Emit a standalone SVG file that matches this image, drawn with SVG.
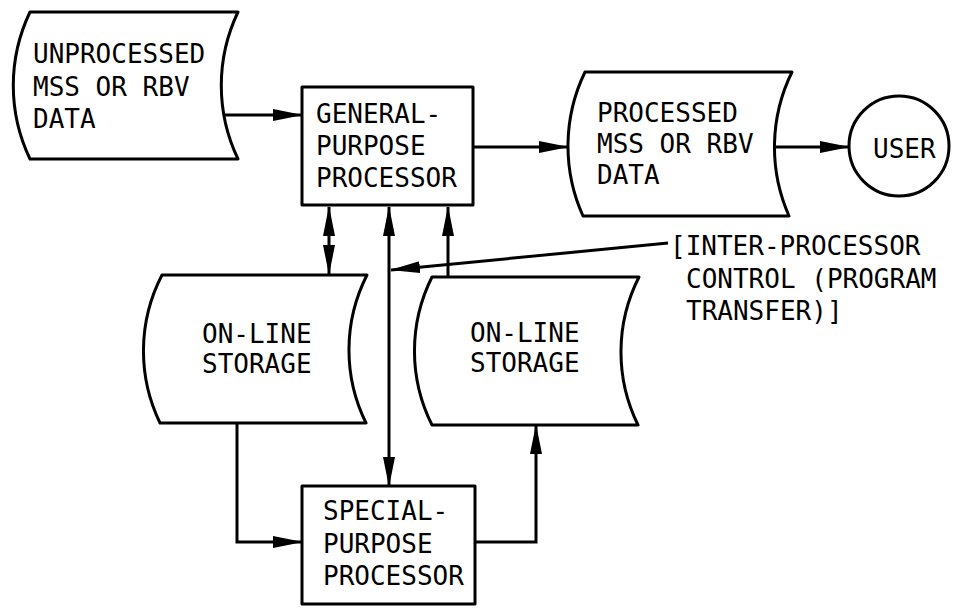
<svg xmlns="http://www.w3.org/2000/svg" width="955" height="613" viewBox="0 0 955 613">
<style>
.shape{fill:#fff;stroke:#000;stroke-width:3;stroke-linejoin:round}
.conn{fill:none;stroke:#000;stroke-width:3}
text{font-family:"DejaVu Sans Mono","Liberation Mono",monospace;font-size:26px;fill:#000}
</style>
<defs>
<marker id="ah" viewBox="0 0 30 12" refX="29" refY="6" markerWidth="30" markerHeight="12" markerUnits="userSpaceOnUse" orient="auto-start-reverse">
<path d="M0,0 L30,6 L0,12 Z" fill="#000"/>
</marker>
</defs>
<rect width="955" height="613" fill="#fff"/>
<g id="connectors">
<path class="conn" d="M223,115 H302" marker-end="url(#ah)"/>
<path class="conn" d="M473,147 H568" marker-end="url(#ah)"/>
<path class="conn" d="M776,147 H849" marker-end="url(#ah)"/>
<path class="conn" d="M329,207 V274" marker-start="url(#ah)" marker-end="url(#ah)"/>
<path class="conn" d="M389,207 V486" marker-start="url(#ah)" marker-end="url(#ah)"/>
<path class="conn" d="M448,277 V207" marker-end="url(#ah)"/>
<path class="conn" d="M668,243 L391,270" marker-end="url(#ah)"/>
<path class="conn" d="M237,423 V542 H302" marker-end="url(#ah)"/>
<path class="conn" d="M475,542 H536 V425" marker-end="url(#ah)"/>
</g>
<g id="unprocessed">
<path class="shape" d="M30,12 L238,12 A170,170 0 0,0 238,159 L30,159 A170,170 0 0,1 30,12 Z"/>
<text x="33" y="63">UNPROCESSED</text>
<text x="33" y="96">MSS OR RBV</text>
<text x="33" y="128">DATA</text>
</g>
<g id="gp">
<rect class="shape" x="302" y="87" width="171" height="118"/>
<text x="316" y="123">GENERAL-</text>
<text x="316" y="155">PURPOSE</text>
<text x="316" y="187">PROCESSOR</text>
</g>
<g id="processed">
<path class="shape" d="M585,72 L792,72 A170,170 0 0,0 789,216 L583,216 A170,170 0 0,1 585,72 Z"/>
<text x="597" y="122">PROCESSED</text>
<text x="597" y="153">MSS OR RBV</text>
<text x="597" y="184">DATA</text>
</g>
<g id="user">
<circle class="shape" cx="899" cy="146" r="50"/>
<text x="873" y="158">USER</text>
</g>
<g id="storage-left">
<path class="shape" d="M162,275 L367,275 A165,165 0 0,0 366,423 L160,423 A165,165 0 0,1 162,275 Z"/>
<text x="202" y="343">ON-LINE</text>
<text x="202" y="373">STORAGE</text>
</g>
<g id="storage-right">
<path class="shape" d="M432,277 L639,277 A165,165 0 0,0 638,425 L432,425 A165,165 0 0,1 432,277 Z"/>
<text x="470" y="342">ON-LINE</text>
<text x="470" y="372">STORAGE</text>
</g>
<g id="sp">
<rect class="shape" x="302" y="486" width="173" height="118"/>
<text x="323" y="520">SPECIAL-</text>
<text x="323" y="553">PURPOSE</text>
<text x="323" y="585">PROCESSOR</text>
</g>
<g id="label-ipc">
<text x="670" y="255">[INTER-PROCESSOR</text>
<text x="686" y="288">CONTROL (PROGRAM</text>
<text x="686" y="320">TRANSFER)]</text>
</g>
</svg>
